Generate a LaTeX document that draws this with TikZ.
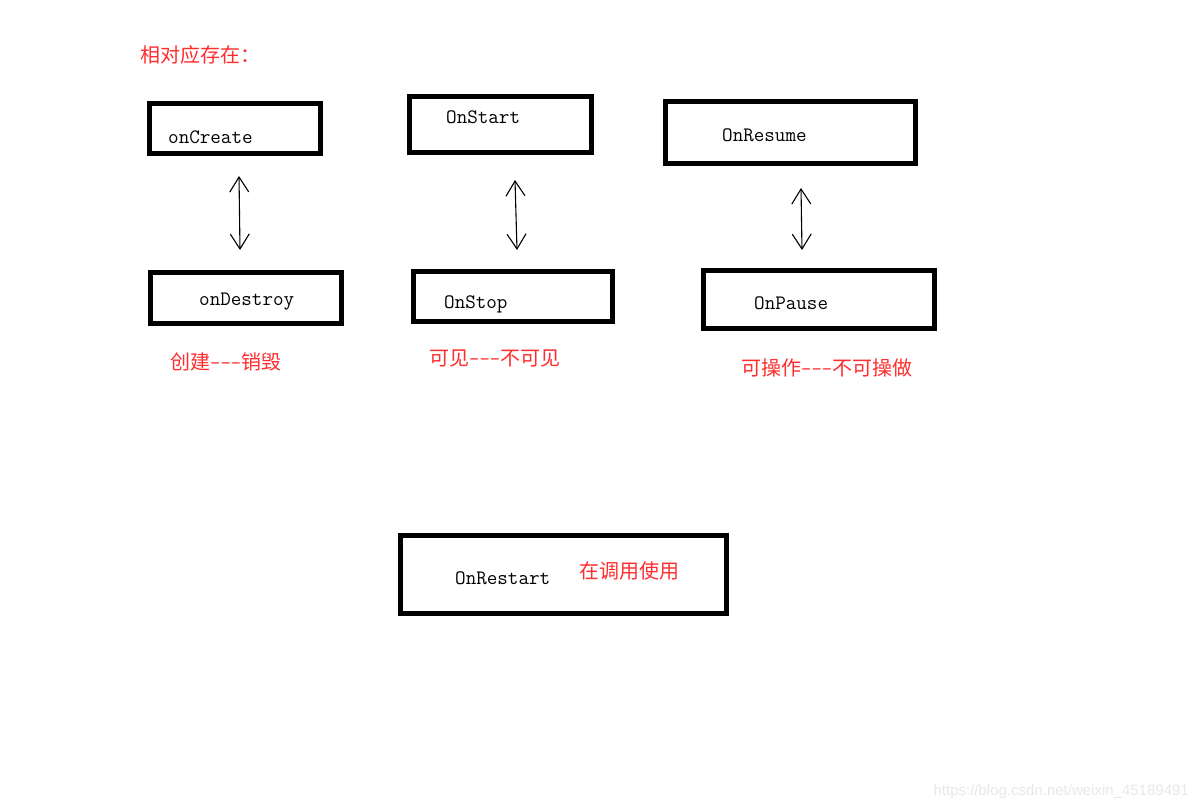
\documentclass[tikz,border=0pt]{standalone}
\usepackage{fontspec}
\newfontfamily\cjk{Noto Sans CJK SC}
\newfontfamily\wmfont{Liberation Sans}
\usetikzlibrary{arrows.meta}
\definecolor{notered}{RGB}{255,45,45}
\tikzset{
  box/.style={draw,line width=5pt,inner sep=0pt},
  fname/.style={anchor=west,inner sep=0pt,font=\ttfamily\fontsize{20.5}{22}\selectfont},
  note/.style={anchor=west,inner sep=0pt,text=notered,font=\cjk\fontsize{20}{22}\selectfont},
  pair/.style={{Straight Barb[length=15pt,width=19pt]}-{Straight Barb[length=15pt,width=19pt]},line width=1.1pt}
}

\begin{document}
\begin{tikzpicture}[x=1pt,y=-1pt]
    \useasboundingbox[fill=white] (0,0) rectangle (1195,811);
    \node[note](title)at (140,55){相对应存在：};
    % boxes
    \node[box,minimum width=171pt,minimum height=50pt](create)at (235,128.5){};
    \node[box,minimum width=191pt,minimum height=51pt](destroy)at (246,298){};
    \node[box,minimum width=182pt,minimum height=56pt](start)at (500.5,124.5){};
    \node[box,minimum width=199pt,minimum height=50pt](stop)at (513,296.5){};
    \node[box,minimum width=250pt,minimum height=62pt](resume)at (790.5,132.5){};
    \node[box,minimum width=231pt,minimum height=58pt](pause)at (819,299.5){};
    \node[box,minimum width=326pt,minimum height=78pt](restart)at (563.5,574.5){};
    % names
    \node[fname](tcreate)at (168,137){onCreate};
    \node[fname](tdestroy)at (199,302){onDestroy};
    \node[fname](tstart)at (446,117){OnStart};
    \node[fname](tstop)at (444,304){OnStop};
    \node[fname](tresume)at (722,135){OnResume};
    \node[fname](tpause)at (754,303){OnPause};
    \node[fname](trestart)at (455,578){OnRestart};
    % notes
    \node[note](ncreate)at (170,362){创建{\ttfamily -{}-{}-}销毁};
    \node[note](nstart)at (429,358){可见{\ttfamily -{}-{}-}不可见};
    \node[note](nresume)at (741,368){可操作{\ttfamily -{}-{}-}不可操做};
    \node[note](nrestart)at (579,571){在调用使用};
    % arrows
    \coordinate(a1)at (239,176);
    \coordinate(b1)at (240,250);
    \coordinate(a2)at (515,180);
    \coordinate(b2)at (517,250);
    \coordinate(a3)at (801,188);
    \coordinate(b3)at (802,250);
    \draw[pair](a1)--(b1);
    \draw[pair](a2)--(b2);
    \draw[pair](a3)--(b3);
    \node[anchor=east,inner sep=0pt,text=black!9,font=\wmfont\fontsize{15}{17}\selectfont](mark)at (1189,792){https://blog.csdn.net/weixin\_45189491};
\end{tikzpicture}
\end{document}
